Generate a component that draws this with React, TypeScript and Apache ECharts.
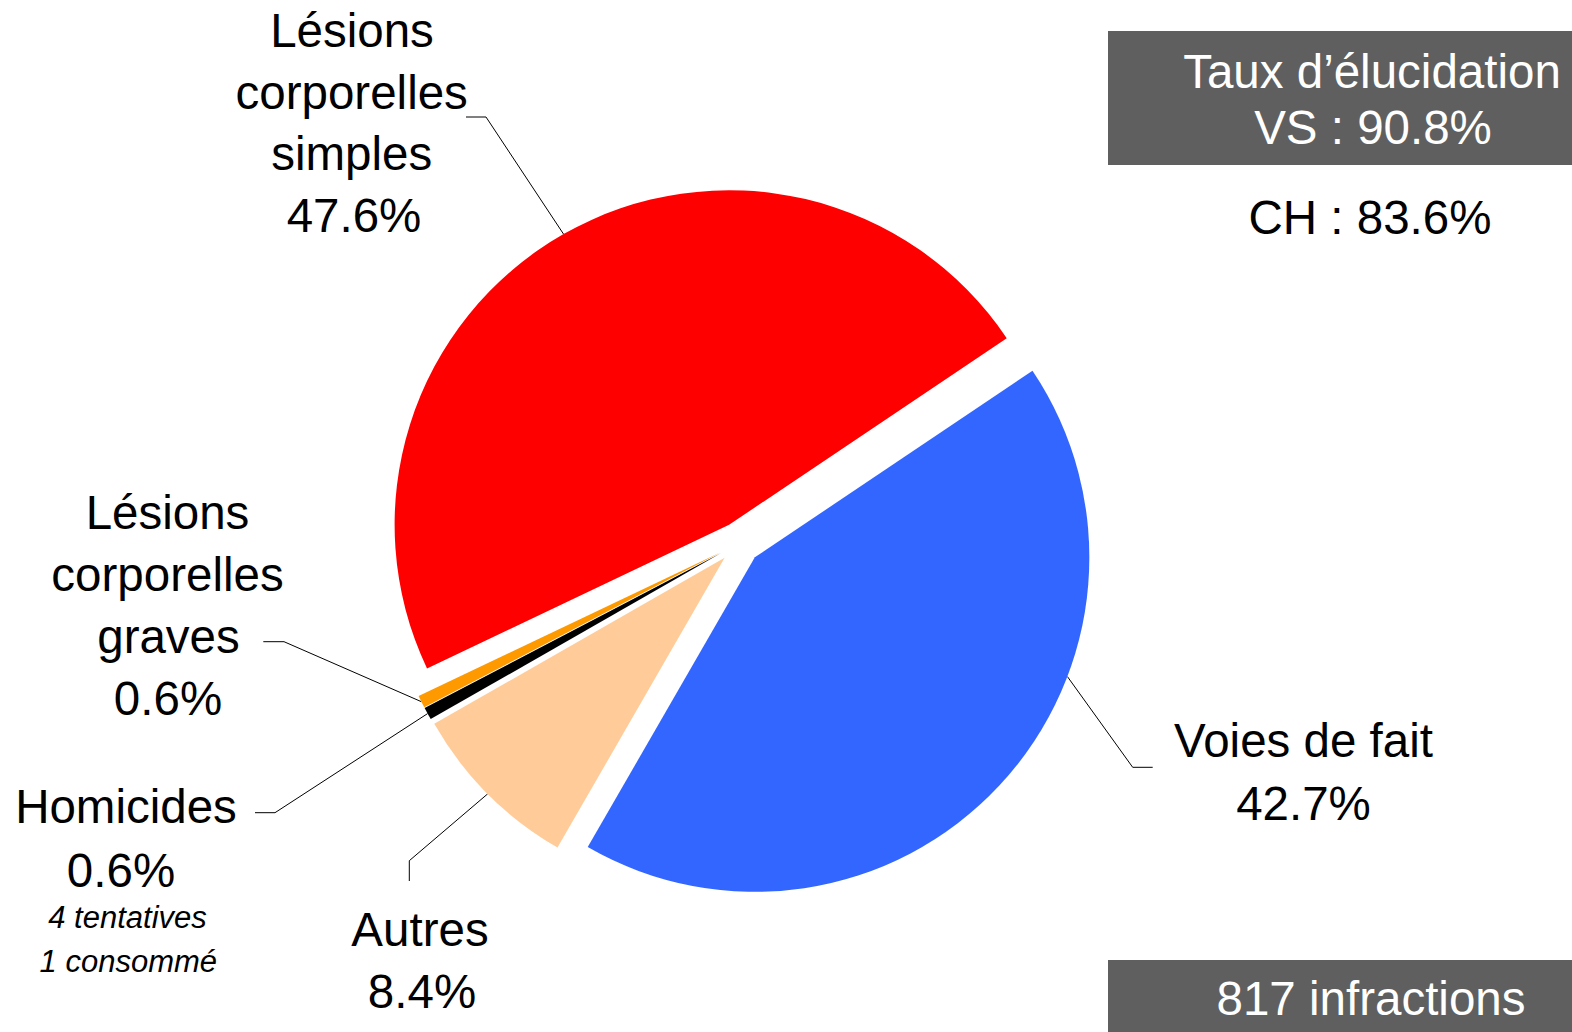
import React, { useEffect, useRef } from "react";
import * as echarts from "echarts";

// ---- data ----
const categories = [
  "Voies de fait",
  "Autres",
  "Homicides",
  "Lésions corporelles graves",
  "Lésions corporelles simples",
];
const shares = [42.7, 8.4, 0.6, 0.6, 47.6];
const sliceColors = ["#3366ff", "#ffcc99", "#000000", "#ff9900", "#ff0000"];
const labelNameLines = [
  ["Voies de fait"],
  ["Autres"],
  ["Homicides"],
  ["Lésions", "corporelles", "graves"],
  ["Lésions", "corporelles", "simples"],
];
const homicideNotes = ["4 tentatives", "1 consommé"];
const clearanceVS = 90.8;
const clearanceCH = 83.6;
const offenceCount = 817;

// ---- layout ----
const FONT = "'Liberation Sans', Arial, Helvetica, sans-serif";
const CX = 739.5;
const CY = 543;
const R = 334.5;
const OFFSET = 21;
const START = 33.9;
const FS = 47.5;

const labelPlacement = [
  { lines: [[1303.5, 740.3], [1303.5, 803.3]], anchorFrac: 0.356, elbow: [1132.7, 767.3], end: [1152.7, 767.3] },
  { lines: [[420, 929], [422, 991]], anchorFrac: 0.5, elbow: [409.3, 860.7], end: [409.3, 881] },
  { lines: [[126, 806.7], [121, 870]], anchorFrac: 0.5, elbow: [275, 812.7], end: [255, 812.7] },
  { lines: [[167.5, 512.5], [167.5, 574.5], [168.5, 636.5], [168, 698.5]], anchorFrac: 0.5, elbow: [284, 641.7], end: [263.3, 641.7] },
  { lines: [[352, 30], [351.7, 92], [351.7, 153], [354, 215]], anchorFrac: 0.5, elbow: [486, 117], end: [466, 117] },
];
const notePlacement = [[127.5, 917.5], [128.3, 961]];

function buildGraphics() {
  const total = shares.reduce((a, b) => a + b, 0);
  const els: any[] = [];
  let a = START;
  shares.forEach((v, i) => {
    const span = (v / total) * 360;
    const s = a;
    const e = a - span;
    const mid = ((s + e) / 2) * Math.PI / 180;
    const anc = (s - span * labelPlacement[i].anchorFrac) * Math.PI / 180;
    a = e;
    const sx = CX + OFFSET * Math.cos(mid) + R * Math.cos(anc);
    const sy = CY - OFFSET * Math.sin(mid) - R * Math.sin(anc);
    const p = labelPlacement[i];
    els.push({
      type: "polyline",
      silent: true,
      shape: { points: [[sx, sy], p.elbow, p.end] },
      style: { stroke: "#000000", lineWidth: 1, fill: null },
    });
    const texts = [...labelNameLines[i], `${v.toFixed(1)}%`];
    texts.forEach((t, k) => {
      els.push({
        type: "text",
        x: p.lines[k][0],
        y: p.lines[k][1],
        silent: true,
        style: {
          text: t,
          fill: "#000000",
          fontFamily: FONT,
          fontSize: FS,
          align: "center",
          verticalAlign: "middle",
        },
      });
    });
  });
  homicideNotes.forEach((t, k) => {
    els.push({
      type: "text",
      x: notePlacement[k][0],
      y: notePlacement[k][1],
      silent: true,
      style: {
        text: t,
        fill: "#000000",
        fontFamily: FONT,
        fontSize: 31,
        fontStyle: "italic",
        align: "center",
        verticalAlign: "middle",
      },
    });
  });
  // KPI boxes
  els.push({
    type: "rect",
    silent: true,
    shape: { x: 1108, y: 31, width: 464, height: 134 },
    style: { fill: "#5f5f5f" },
  });
  els.push({
    type: "text", x: 1372, y: 71, silent: true,
    style: { text: "Taux d’élucidation", fill: "#ffffff", fontFamily: FONT, fontSize: FS, align: "center", verticalAlign: "middle" },
  });
  els.push({
    type: "text", x: 1373, y: 127.5, silent: true,
    style: { text: `VS : ${clearanceVS.toFixed(1)}%`, fill: "#ffffff", fontFamily: FONT, fontSize: FS, align: "center", verticalAlign: "middle" },
  });
  els.push({
    type: "text", x: 1370, y: 217, silent: true,
    style: { text: `CH : ${clearanceCH.toFixed(1)}%`, fill: "#000000", fontFamily: FONT, fontSize: FS, align: "center", verticalAlign: "middle" },
  });
  els.push({
    type: "rect",
    silent: true,
    shape: { x: 1108, y: 960, width: 464, height: 72 },
    style: { fill: "#5f5f5f" },
  });
  els.push({
    type: "text", x: 1371, y: 998, silent: true,
    style: { text: `${offenceCount} infractions`, fill: "#ffffff", fontFamily: FONT, fontSize: FS, align: "center", verticalAlign: "middle" },
  });
  return els;
}

export default function App() {
  const ref = useRef<HTMLDivElement>(null);
  useEffect(() => {
    if (!ref.current) return;
    const chart = echarts.init(ref.current, null, { renderer: "svg" });
    chart.setOption({
      animation: false,
      backgroundColor: "#ffffff",
      series: [
        {
          type: "pie",
          center: [CX, CY],
          radius: R,
          startAngle: START,
          clockwise: true,
          selectedMode: "multiple",
          selectedOffset: OFFSET,
          label: { show: false },
          labelLine: { show: false },
          emphasis: { disabled: true, scale: false },
          select: { itemStyle: { borderWidth: 0 } },
          itemStyle: { borderWidth: 0 },
          data: categories.map((name, i) => ({
            name,
            value: shares[i],
            selected: true,
            itemStyle: { color: sliceColors[i] },
          })),
        },
      ],
      graphic: { elements: buildGraphics() },
    });
    return () => chart.dispose();
  }, []);
  return (
    <div
      ref={ref}
      style={{ position: "fixed", left: 0, top: 0, width: 1572, height: 1032, background: "#ffffff" }}
    />
  );
}
